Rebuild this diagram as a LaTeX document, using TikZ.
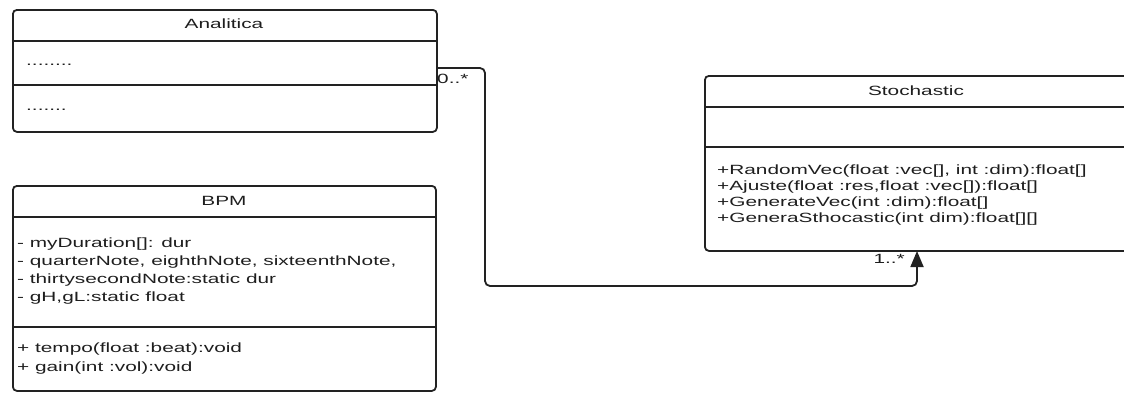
\documentclass[tikz,border=0pt]{standalone}
\usepackage{fontspec}
\usepackage{graphicx}
\setmainfont{Liberation Sans}
\usetikzlibrary{arrows.meta}
\definecolor{lc}{HTML}{222222}
\definecolor{tc}{HTML}{1E1E1E}
\newcommand{\hs}[1]{\scalebox{1.6}[1.03]{#1}}
\tikzset{
  classbox/.style={draw=lc, line width=1.8pt, rounded corners=4pt, inner sep=0pt, anchor=north west},
  divider/.style={draw=lc, line width=1.6pt},
  txt/.style={anchor=base west, inner sep=0pt, font=\fontsize{13}{15}\selectfont, text=tc},
  ttl/.style={anchor=base, inner sep=0pt, font=\fontsize{13}{15}\selectfont, text=tc},
  conn/.style={draw=lc, line width=1.8pt, rounded corners=5pt},
}
\begin{document}
\begin{tikzpicture}[x=1pt,y=-1pt]
\useasboundingbox (0,0) rectangle (1124,392);
\clip (0,0) rectangle (1124,392);
% Analitica
\node[classbox, minimum width=424pt, minimum height=122pt] (ana) at (12,9) {};
\draw[divider] (12,41) -- (436,41);
\draw[divider] (12,85) -- (436,85);
\node[ttl] (anat) at (224,28) {\hs{Analitica}};
\node[txt] (anaa) at (26,65) {\hs{........}};
\node[txt] (anam) at (26,110) {\hs{.......}};
% BPM
\node[classbox, minimum width=423pt, minimum height=205pt] (bpm) at (12,185) {};
\draw[divider] (12,217) -- (435,217);
\draw[divider] (12,327) -- (435,327);
\node[ttl] (bpmt) at (224,205) {\hs{BPM}};
\node[txt] (bpma1) at (17,247) {\hs{- myDuration[]: dur}};
\node[txt] (bpma2) at (17,265) {\hs{- quarterNote, eighthNote, sixteenthNote,}};
\node[txt] (bpma3) at (17,283) {\hs{- thirtysecondNote:static dur}};
\node[txt] (bpma4) at (17,301) {\hs{- gH,gL:static float}};
\node[txt] (bpmm1) at (17,352) {\hs{+ tempo(float :beat):void}};
\node[txt] (bpmm2) at (17,371) {\hs{+ gain(int :vol):void}};
% Stochastic
\node[classbox, minimum width=428pt, minimum height=175pt] (sto) at (704,75) {};
\draw[divider] (704,107) -- (1132,107);
\draw[divider] (704,147) -- (1132,147);
\node[ttl] (stot) at (916,95) {\hs{Stochastic}};
\node[txt] (stom1) at (717,174) {\hs{+RandomVec(float :vec[], int :dim):float[]}};
\node[txt] (stom2) at (717,190) {\hs{+Ajuste(float :res,float :vec[]):float[]}};
\node[txt] (stom3) at (717,206) {\hs{+GenerateVec(int :dim):float[]}};
\node[txt] (stom4) at (717,222) {\hs{+GeneraSthocastic(int dim):float[][]}};
% connector
\coordinate (cs) at (436,68);
\coordinate (ce) at (917,251);
\draw[conn, -{Triangle[length=16pt,width=13pt]}] (cs) -- (485,68) -- (485,286) -- (917,286) -- (ce);
\node[txt] (m1) at (437,83) {\hs{0..*}};
\node[anchor=base east, inner sep=0pt, font=\fontsize{13}{15}\selectfont, text=tc] (m2) at (905,263) {\hs{1..*}};
\end{tikzpicture}
\end{document}
